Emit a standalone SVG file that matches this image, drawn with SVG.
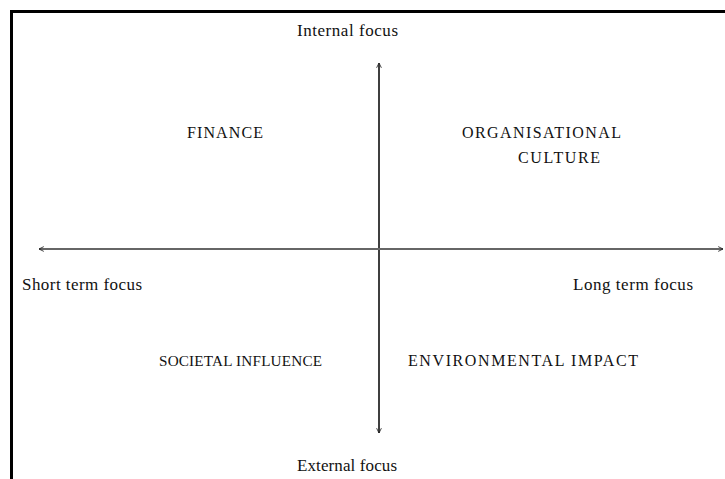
<svg xmlns="http://www.w3.org/2000/svg" width="725" height="479" viewBox="0 0 725 479">
<defs>
<style>
text{font-family:"Liberation Serif","Times New Roman",serif;font-size:17px;fill:#111}
text.cap{font-size:16px}
text.sm{font-size:15.2px}
.ax{stroke-width:1.5;fill:none}
</style>
<marker id="ah" viewBox="0 0 10 10" refX="9" refY="5" markerWidth="6" markerHeight="6" orient="auto-start-reverse" markerUnits="userSpaceOnUse">
<path d="M1,1 L9,5 L1,9" fill="none" stroke="#222" stroke-width="1.4"/>
</marker>
</defs>
<rect width="725" height="479" fill="#fff"/>
<path d="M11.5,490 V11.5 H730" fill="none" stroke="#000" stroke-width="3"/>
<g id="connectors">
<line class="ax" x1="379" y1="433" x2="379" y2="63" stroke="#333" marker-end="url(#ah)"/>
<line class="ax" x1="379" y1="63" x2="379" y2="433" stroke="#333" marker-end="url(#ah)"/>
<line x1="39" y1="249" x2="723" y2="249" stroke="#666" stroke-width="2" marker-start="url(#ah)" marker-end="url(#ah)"/>
</g>
<g id="internal-focus"><text x="297" y="36" textLength="101">Internal focus</text></g>
<g id="external-focus"><text x="297" y="471" textLength="100">External focus</text></g>
<g id="short-term"><text x="22" y="290" textLength="120">Short term focus</text></g>
<g id="long-term"><text x="573" y="290" textLength="120">Long term focus</text></g>
<g id="finance"><text class="cap" x="187" y="138" textLength="76">FINANCE</text></g>
<g id="org-culture"><text class="cap" x="462" y="138" textLength="159">ORGANISATIONAL</text><text class="cap" x="518" y="163" textLength="82">CULTURE</text></g>
<g id="societal"><text class="cap sm" x="159" y="366" textLength="163">SOCIETAL INFLUENCE</text></g>
<g id="environmental"><text class="cap" x="408" y="366" textLength="230">ENVIRONMENTAL IMPACT</text></g>
</svg>
